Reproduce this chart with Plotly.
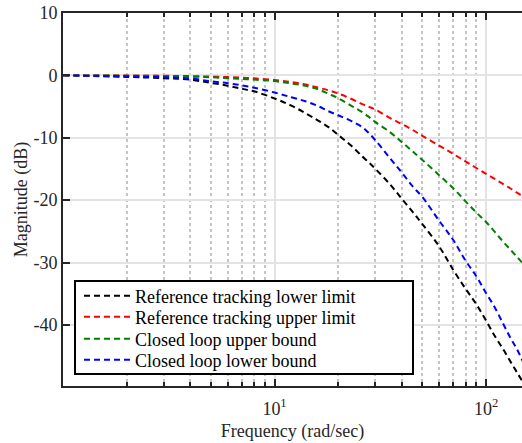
import plotly.graph_objects as go

# Frequency grid (rad/sec) and magnitude responses (dB)
freq = [1, 2, 3, 4, 5, 6, 7, 8, 10, 12, 14, 16, 18, 20, 23, 26, 28, 30, 35, 40,
        45, 50, 60, 70, 80, 90, 100, 110, 120, 130, 140, 150]

ref_lower = [0, -0.25, -0.45, -0.7, -1.2, -1.65, -2.15, -2.55, -3.7, -4.85, -6.05,
             -7.2, -8.3, -9.55, -11.25, -13.0, -14.0, -15.0, -17.4, -19.8, -21.9,
             -23.85, -27.4, -31.2, -34.2, -36.7, -39.3, -41.8, -43.8, -45.8, -47.6, -49.3]

ref_upper = [0, -0.03, -0.07, -0.12, -0.2, -0.28, -0.38, -0.48, -0.75, -1.07, -1.45,
             -1.95, -2.4, -2.9, -3.75, -4.6, -5.05, -5.5, -6.8, -7.8, -8.75,
             -9.7, -11.25, -12.6, -13.8, -14.85, -15.8, -16.6, -17.4, -18.1, -18.8, -19.4]

cl_upper = [0, -0.05, -0.1, -0.2, -0.3, -0.45, -0.58, -0.68, -0.92, -1.3, -1.68,
            -2.2, -2.95, -3.65, -4.85, -5.9, -6.7, -7.5, -9.05, -10.7, -12.2,
            -13.55, -16.0, -18.1, -20.2, -22.0, -23.5, -25.1, -26.6, -27.9, -29.1, -30.2]

cl_lower = [0, -0.15, -0.3, -0.5, -0.95, -1.25, -1.6, -1.97, -2.75, -3.5, -4.15,
            -4.9, -5.75, -6.4, -7.3, -8.3, -9.3, -10.4, -13.2, -15.6, -17.8,
            -19.5, -23.3, -26.4, -29.7, -32.2, -34.9, -37.2, -39.7, -42.0, -43.9, -46.0]

series_names = ["Reference tracking lower limit", "Reference tracking upper limit",
                "Closed loop upper bound", "Closed loop lower bound"]
series_colors = ["#000000", "#ff0000", "#008000", "#0000ff"]

y_tick_vals = [10, 0, -10, -20, -30, -40]
y_tick_text = ["10", "0", "-10", "-20", "-30", "-40"]
x_tick_vals = [10, 100]
x_tick_text = ["10<sup>1</sup>", "10<sup>2</sup>"]
x_minor_vals = [2, 3, 4, 5, 6, 7, 8, 9, 20, 30, 40, 50, 60, 70, 80, 90]

FONT = "Liberation Serif, Times New Roman, serif"
FS = 18
AXIS_COLOR = "#262626"

# plot area geometry in pixels (used for paper coordinates)
L, T, W, H = 63, 13, 459, 373
FIG_W, FIG_H = 522, 443

def px_x(x):
    return (x - L) / W

def px_y(y):
    return (T + H - y) / H

legend_ids = ["legend", "legend2", "legend3", "legend4"]
legend_rows = [296, 317, 339, 360]

fig = go.Figure()
for name, color, vals, lid in zip(series_names, series_colors,
                                  [ref_lower, ref_upper, cl_upper, cl_lower], legend_ids):
    fig.add_trace(go.Scatter(
        x=freq, y=vals, mode="lines", name=name, line_shape="spline",
        line=dict(color=color, width=2, dash="6px,4px"), legend=lid,
    ))

# legend frame
fig.add_shape(type="rect", xref="paper", yref="paper",
              x0=px_x(75), x1=px_x(413), y0=px_y(374), y1=px_y(281),
              line=dict(color="black", width=2), fillcolor="white", layer="above")

legend_layout = {}
for lid, row in zip(legend_ids, legend_rows):
    legend_layout[lid] = dict(
        x=px_x(79), y=px_y(row), xanchor="left", yanchor="middle",
        bgcolor="rgba(0,0,0,0)", borderwidth=0,
        font=dict(family=FONT, size=FS, color="black"),
        itemwidth=46,
    )

fig.update_layout(
    width=FIG_W, height=FIG_H,
    margin=dict(l=L, r=FIG_W - L - W, t=T, b=FIG_H - T - H),
    paper_bgcolor="white", plot_bgcolor="white",
    font=dict(family=FONT, size=FS, color=AXIS_COLOR),
    showlegend=True,
    **legend_layout,
    xaxis=dict(
        type="log", range=[0, 2.17],
        tickmode="array", tickvals=x_tick_vals, ticktext=x_tick_text,
        ticks="inside", ticklen=7, tickwidth=1.5, tickcolor=AXIS_COLOR,
        showline=True, linecolor=AXIS_COLOR, linewidth=2, mirror="allticks",
        showgrid=True, gridcolor="#e3e3e3", gridwidth=2,
        minor=dict(tickmode="array", tickvals=x_minor_vals, ticks="inside",
                   ticklen=4, tickwidth=1.5, tickcolor=AXIS_COLOR,
                   showgrid=True, gridcolor="#c4c4c4", gridwidth=1.5, griddash="dot"),
        zeroline=False, ticklabelstandoff=5,
        title=dict(text="Frequency (rad/sec)", standoff=7,
                   font=dict(family=FONT, size=FS, color=AXIS_COLOR)),
        tickfont=dict(family=FONT, size=FS, color=AXIS_COLOR),
    ),
    yaxis=dict(
        range=[-49.8, 10],
        tickmode="array", tickvals=y_tick_vals, ticktext=y_tick_text,
        ticks="inside", ticklen=7, tickwidth=1.5, tickcolor=AXIS_COLOR,
        showline=True, linecolor=AXIS_COLOR, linewidth=2, mirror=False,
        showgrid=True, gridcolor="#e3e3e3", gridwidth=2,
        zeroline=False,
        title=dict(text="Magnitude (dB)", standoff=1,
                   font=dict(family=FONT, size=FS, color=AXIS_COLOR)),
        tickfont=dict(family=FONT, size=FS, color=AXIS_COLOR),
    ),
)

fig.write_html("out.html")
